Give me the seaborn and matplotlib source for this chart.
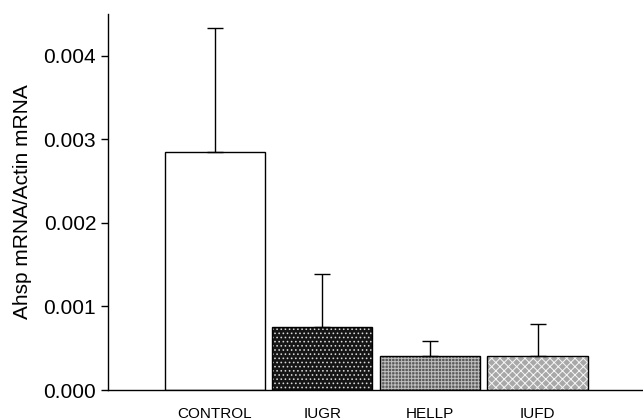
import matplotlib
matplotlib.use("Agg")
import matplotlib.pyplot as plt
import seaborn as sns
import pandas as pd

groups = ["CONTROL", "IUGR", "HELLP", "IUFD"]
means = [0.00285, 0.00076, 0.00041, 0.00041]
errs = [0.00148, 0.00063, 0.00018, 0.00038]
y_ticks = [0.000, 0.001, 0.002, 0.003, 0.004]

face = ["white", "#151515", "#5a5a5a", "#a8a8a8"]
hatches = ["", "....", "+++++", "xxxx"]

sns.set_style("ticks")
plt.rcParams["font.family"] = ["Liberation Sans", "DejaVu Sans"]
plt.rcParams["hatch.linewidth"] = 0.7

df = pd.DataFrame({"group": groups, "value": means})

fig = plt.figure(figsize=(6.43, 4.19), dpi=100)
ax = fig.add_axes([0.168, 0.069, 0.832, 0.898])

sns.barplot(data=df, x="group", y="value", hue="group", palette=face,
            width=0.93, edgecolor="black", linewidth=1.0, legend=False, ax=ax)

hatch_cols = [None, (1, 1, 1, 0.75), (0.85, 0.85, 0.85, 0.8), (1, 1, 1, 0.9)]
for patch, h, hc in zip(ax.patches, hatches, hatch_cols):
    if h:
        patch.set_hatch(h)
        patch._hatch_color = hc

ax.errorbar(range(len(groups)), means, yerr=[[0] * len(errs), errs], fmt="none",
            ecolor="black", elinewidth=1.0, capsize=6, capthick=1.0, zorder=1)

ax.set_xlim(-0.99, 3.98)
ax.set_ylim(0, 0.0045)
ax.set_yticks(y_ticks)
ax.set_yticklabels([f"{t:.3f}" for t in y_ticks], fontsize=15, color="black")
ax.set_ylabel("Ahsp mRNA/Actin mRNA", fontsize=15, labelpad=8, color="black")
ax.set_xlabel("")
ax.tick_params(axis="x", length=0, labelsize=11, pad=12, labelcolor="black")
ax.tick_params(axis="y", length=5, width=1.0, color="black")
for side in ["top", "right"]:
    ax.spines[side].set_visible(False)
for side in ["left", "bottom"]:
    ax.spines[side].set_color("black")
    ax.spines[side].set_linewidth(1.0)

fig.savefig("out.png", dpi=100)
